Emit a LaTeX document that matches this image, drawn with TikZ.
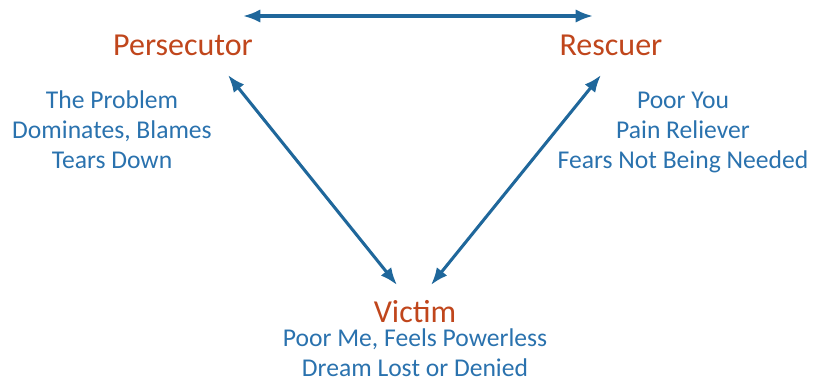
\documentclass[tikz,border=0pt]{standalone}
\usepackage{fontspec}
\setmainfont{Carlito}
\usetikzlibrary{arrows.meta}

\definecolor{rolered}{HTML}{C0461C}
\definecolor{noteblue}{HTML}{2A72AE}
\definecolor{linkblue}{HTML}{1F679B}

\tikzset{
    role/.style  = {anchor=base, inner sep=0pt, text=rolered,
                    font=\fontsize{24}{29}\selectfont},
    % base of a multi-line note is its last line
    notes/.style = {anchor=base, inner sep=0pt, text=noteblue, align=center,
                    font=\fontsize{19.2}{22.5}\selectfont},
    link/.style  = {draw=linkblue, line width=2.3pt,
                    {Latex[length=13pt,width=10pt]}-{Latex[length=13pt,width=10pt]}},
}

\begin{document}
\begin{tikzpicture}[x=0.75pt, y=-0.75pt]

        % page frame, measured in pixels from the top left
        \useasboundingbox (0,0) rectangle (815,380);

        % the three roles
        \node[role] (per) at (183,55)  {Persecutor};
        \node[role] (res) at (611,55)  {Rescuer};
        \node[role] (vic) at (415,322) {Victim};

        % what each role stands for
        \node[notes] (pernotes) at (112,168) {The Problem\\Dominates, Blames\\Tears Down};
        \node[notes] (resnotes) at (683,168) {Poor You\\Pain Reliever\\Fears Not Being Needed};
        \node[notes] (vicnotes) at (415,376) {Poor Me, Feels Powerless\\Dream Lost or Denied};

        % the sides of the triangle
        \draw[link] ([shift={(60,-39)}]per.base) -- ([shift={(-18,-39)}]res.base);
        \draw[link] ([shift={(45,20)}]per.base)  -- ([shift={(-18,-37)}]vic.base);
        \draw[link] ([shift={(-10,20)}]res.base) -- ([shift={(16,-37)}]vic.base);
    \end{tikzpicture}
\end{document}
